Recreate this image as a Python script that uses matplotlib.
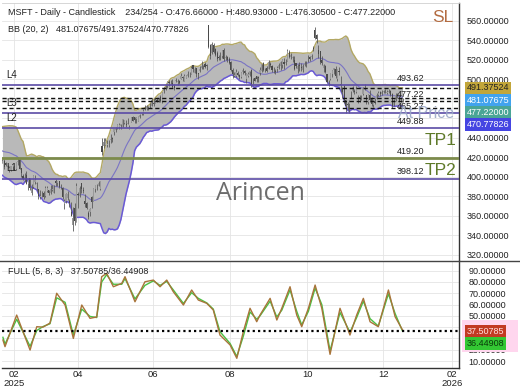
import matplotlib
matplotlib.use('Agg')
import matplotlib.pyplot as plt
import numpy as np
import pandas as pd
from matplotlib.patches import Rectangle
from matplotlib.lines import Line2D
from matplotlib.ticker import FuncFormatter

plt.rcParams['font.family'] = ['Liberation Sans', 'DejaVu Sans']

# ---------------- data ----------------
symbol = "MSFT"
bar_pos, bar_total = 234, 254
last_ohlc = (476.66000, 480.93000, 476.30500, 477.22000)

# closes before the first visible bar (needed for the 20-bar bands)
warmup_close = [424.56, 418.95, 417.19, 415.67, 426.31, 424.58, 429.03, 428.50, 446.20, 446.71,
                444.06, 434.56, 447.20, 442.33, 414.99, 415.06, 410.92, 412.37, 413.29]

opens = [
    414.0, 416.5, 413.7, 409.6, 407.2, 407.0, 407.8, 408.0, 407.9, 415.3, 417.3, 408.5, 401.2, 398.0, 401.3, 392.7,
    398.8, 383.4, 389.5, 394.3, 392.3, 387.4, 379.0, 382.9, 383.2, 379.8, 385.7, 386.2, 383.3, 386.6, 383.6, 395.9, 393.5, 395.3, 390.0, 388.1, 372.5,
    374.7, 377.9, 374.8, 364.1, 350.0, 368.2, 353.5, 382.1, 380.6, 393.2, 386.6, 375.0, 373.5, 362.8, 363.4, 379.0, 375.5, 387.3, 391.8, 390.9, 387.7,
    431.1, 431.7, 432.9, 432.2, 433.8, 437.9, 440.0, 445.9, 447.8, 450.0, 450.8, 452.1, 450.8, 455.6, 454.6, 454.3, 449.0, 456.4, 461.2, 461.6, 459.7,
    457.1, 461.5, 464.0, 464.3, 469.8, 469.7, 470.0, 473.0, 473.0, 476.0, 475.3, 478.2, 478.1, 482.0, 478.0, 488.0, 490.5, 492.9, 497.6, 497.0,
    496.5, 493.0, 497.8, 497.2, 497.7, 500.5, 502.0, 498.5, 501.5, 503.0, 505.0, 505.2, 514.5, 506.7, 511.4, 506.7, 508.8, 512.0, 513.0, 515.5, 515.0, 555.2,
    535.0, 526.5, 535.0, 530.9, 526.8, 522.6, 522.3, 523.8, 530.1, 522.0, 522.5, 521.0, 518.0, 509.0, 503.3, 503.0, 506.6, 504.4, 502.0, 507.1, 508.7,
    500.5, 503.8, 504.3, 509.1, 498.1, 501.4, 502.9, 502.3, 506.7, 508.8, 516.9, 510.6, 511.5, 510.6, 515.6, 513.8, 510.4, 508.3, 510.1, 511.5, 513.2,
    514.8, 517.6, 517.1, 518.6, 528.3, 523.3, 522.3, 519.6, 516.4, 510.2, 514.9, 512.6, 509.0, 514.6, 517.5, 521.2, 522.5, 522.8, 531.8, 550.0, 544.9, 530.5, 528.9,
    519.8, 511.8, 513.3, 505.7, 496.9, 500.0, 505.0, 509.3, 510.3, 500.0, 508.8, 495.1, 490.8, 493.0, 478.5, 475.0, 474.1, 486.3, 487.6,
    488.4, 486.7, 476.3, 482.0, 482.5, 484.9, 492.0, 484.0, 476.8, 484.0, 480.0, 473.8, 476.7, 480.0, 484.0, 486.5, 484.5, 486.6, 488.0, 486.0, 486.9, 487.5,
    484.5, 474.0, 479.0, 483.5, 482.0, 478.5, 476.66]

highs = [
    418.2, 418.6, 415.5, 412.5, 410.8, 411.0, 411.0, 410.6, 415.5, 419.3, 418.1, 409.3, 402.3, 403.6, 405.7, 397.6,
    398.8, 392.5, 402.2, 402.2, 394.8, 387.9, 386.0, 385.2, 385.3, 390.8, 390.0, 386.5, 391.8, 391.8, 392.0, 397.2, 395.3, 395.3, 392.2, 389.1, 377.1,
    382.9, 385.1, 377.5, 374.6, 368.9, 373.2, 393.2, 383.9, 390.2, 393.2, 389.6, 382.5, 374.3, 364.5, 367.8, 380.0, 388.0, 391.9, 392.8, 395.4, 395.9,
    439.5, 439.4, 439.4, 437.7, 438.1, 443.7, 440.7, 449.4, 450.7, 453.9, 455.0, 454.4, 459.6, 458.3, 457.9, 460.5, 453.2, 460.9, 462.5, 461.7, 461.7,
    462.1, 464.1, 465.7, 469.6, 473.3, 473.4, 473.0, 476.1, 480.4, 480.4, 480.7, 481.0, 481.0, 483.5, 486.8, 491.9, 494.6, 498.0, 499.3, 499.5,
    500.5, 495.3, 500.8, 500.2, 498.9, 506.8, 503.3, 505.0, 503.9, 508.3, 507.0, 513.4, 514.6, 512.1, 511.4, 506.8, 513.7, 518.3, 514.6, 517.6, 515.7, 555.5,
    536.0, 538.2, 537.2, 531.7, 528.9, 524.7, 527.6, 530.0, 531.8, 524.9, 524.0, 522.9, 518.2, 511.1, 507.6, 510.9, 508.2, 505.8, 507.3, 511.1, 509.6,
    506.0, 507.8, 508.2, 511.0, 501.2, 502.3, 503.2, 503.2, 512.6, 515.5, 517.2, 511.3, 513.1, 519.3, 517.7, 514.6, 512.5, 510.0, 513.9, 516.9, 518.2,
    520.5, 521.6, 520.5, 531.0, 529.8, 526.9, 524.3, 523.6, 516.4, 515.3, 517.2, 516.9, 515.5, 518.7, 518.7, 525.2, 523.9, 525.4, 534.6, 553.7, 546.3, 535.0, 529.3,
    524.0, 515.6, 514.8, 505.7, 499.4, 506.9, 509.0, 511.7, 513.5, 511.0, 512.1, 502.9, 491.7, 493.6, 478.9, 476.9, 479.0, 488.3, 492.6,
    489.9, 493.5, 484.2, 483.7, 483.4, 492.3, 495.0, 484.3, 484.9, 488.9, 481.5, 478.5, 481.2, 486.0, 487.5, 488.0, 488.5, 489.0, 489.5, 489.0, 489.5, 488.5,
    485.5, 480.0, 485.5, 486.0, 483.5, 481.0, 480.93]

lows = [
    414.0, 408.1, 410.7, 409.3, 404.4, 406.0, 407.0, 406.5, 407.3, 412.5, 407.9, 399.5, 396.7, 394.3, 392.2, 386.6,
    386.2, 381.0, 388.0, 392.8, 385.5, 377.2, 376.9, 378.9, 377.6, 379.0, 384.3, 381.7, 382.7, 385.0, 383.3, 390.5, 390.4, 388.0, 387.4, 376.9, 367.2,
    373.0, 376.6, 369.4, 359.5, 344.8, 350.0, 353.1, 367.8, 378.9, 382.9, 383.4, 368.7, 366.9, 356.7, 359.9, 368.4, 375.0, 384.2, 386.0, 390.4, 386.3,
    422.8, 429.0, 432.1, 430.2, 430.5, 435.1, 435.9, 442.5, 445.5, 449.0, 448.7, 448.7, 450.6, 454.3, 451.0, 453.9, 448.9, 456.1, 456.9, 455.3, 455.5,
    456.9, 460.0, 463.0, 463.5, 468.8, 468.6, 468.3, 471.0, 473.0, 473.0, 475.2, 476.5, 476.6, 476.8, 475.5, 486.4, 489.3, 491.4, 493.5, 495.4,
    490.6, 488.8, 497.0, 494.3, 495.0, 500.3, 497.7, 497.8, 501.0, 502.8, 502.2, 505.0, 507.1, 506.0, 502.6, 500.7, 507.3, 510.4, 510.8, 511.6, 509.4, 531.9,
    520.9, 525.9, 527.2, 524.0, 518.3, 519.4, 519.5, 521.7, 518.9, 519.5, 517.6, 515.5, 508.2, 501.6, 502.1, 502.2, 503.8, 499.9, 501.0, 505.0, 504.5,
    496.4, 502.3, 503.2, 491.8, 495.0, 497.7, 496.7, 497.1, 503.9, 507.0, 508.6, 507.3, 507.7, 510.3, 512.5, 507.3, 506.9, 505.0, 507.2, 510.5, 509.7,
    511.7, 510.7, 515.0, 518.2, 521.4, 521.1, 517.4, 509.6, 511.7, 506.0, 508.7, 508.1, 507.3, 513.4, 513.0, 517.7, 518.7, 520.8, 529.0, 540.8, 536.7, 522.1, 515.4,
    514.6, 507.1, 506.6, 495.8, 493.0, 498.9, 502.4, 505.5, 501.0, 497.7, 504.0, 486.6, 480.7, 475.5, 464.9, 468.0, 464.9, 481.2, 486.7,
    484.7, 486.3, 475.2, 477.0, 478.9, 484.0, 489.0, 475.1, 474.1, 476.8, 472.8, 471.5, 475.0, 479.5, 482.5, 483.0, 483.5, 485.5, 485.8, 484.8, 485.8, 483.0,
    470.5, 472.5, 478.0, 481.0, 476.5, 476.8, 476.305]

closes = [
    415.82, 409.75, 412.22, 411.44, 409.04, 410.54, 408.43, 409.64, 414.77, 416.13, 408.21, 404.00, 397.90, 399.73, 392.53, 396.99,
    388.49, 388.61, 401.02, 396.89, 393.31, 380.16, 380.45, 383.27, 378.77, 388.56, 388.70, 383.52, 387.82, 386.84, 391.26, 393.08, 395.16, 389.97, 390.58, 378.80, 375.39,
    382.19, 382.14, 373.11, 359.84, 357.86, 354.56, 390.49, 381.35, 388.45, 387.81, 385.73, 371.61, 367.78, 359.12, 366.82, 374.39, 387.30, 391.85, 391.16, 394.04, 395.26,
    425.40, 435.28, 436.17, 433.31, 433.35, 438.17, 438.73, 449.26, 449.14, 452.94, 453.13, 454.27, 458.87, 458.17, 452.57, 454.86, 450.18, 460.69, 457.36, 458.68, 460.36,
    461.97, 462.97, 463.87, 467.68, 470.38, 472.75, 470.92, 472.62, 478.87, 474.96, 479.14, 478.04, 480.24, 477.40, 486.00, 490.11, 492.27, 497.45, 495.94, 497.41,
    492.05, 491.09, 498.84, 497.72, 496.62, 503.51, 501.48, 503.32, 503.02, 505.82, 505.62, 511.70, 510.05, 510.06, 505.27, 505.87, 510.88, 513.71, 512.50, 512.57, 513.24, 533.50,
    524.11, 535.64, 527.75, 524.94, 520.84, 522.04, 521.77, 529.24, 520.58, 522.48, 520.17, 517.10, 509.77, 505.72, 504.24, 507.23, 504.26, 502.04, 506.74, 509.64, 506.69,
    505.12, 505.35, 507.97, 495.00, 498.20, 498.41, 500.37, 501.01, 509.90, 515.36, 509.04, 510.02, 508.45, 517.93, 514.45, 509.23, 510.15, 507.03, 511.46, 514.60, 517.95,
    519.71, 515.74, 517.35, 528.57, 523.00, 524.85, 522.40, 510.96, 514.05, 513.57, 513.43, 511.61, 513.58, 516.79, 517.66, 520.54, 520.56, 523.61, 531.52, 542.07, 541.55, 525.76, 517.81,
    517.03, 514.33, 507.16, 497.10, 496.82, 506.00, 508.68, 511.14, 503.29, 510.18, 507.49, 493.79, 487.12, 478.43, 472.12, 474.00, 476.99, 485.50, 492.01,
    486.74, 490.00, 477.73, 480.84, 483.16, 491.02, 492.02, 478.56, 483.47, 478.53, 474.82, 476.39, 476.12, 483.98, 485.92, 484.92, 486.85, 488.02, 487.71, 487.10, 487.48, 483.62,
    472.94, 478.51, 483.50, 483.00, 478.10, 479.30, 477.22]

bb_period, bb_mult = 20, 2
bb_now = (481.07675, 491.37524, 470.77826)   # middle / upper / lower
price_now = 477.22000

level_names = ['L4', 'L3', 'L2', 'L1']
level_values = [493.62, 465.27, 449.88, 398.12]
tp1_value, tp2_value = 419.20, 398.12

osc_params = (5, 8, 3)
osc_now = (37.50785, 36.44908)
osc_bars = [0.3, 1.5, 8.3, 16.1, 20.0, 23.6, 27.7, 31.6, 36.5, 41.3, 46.2, 51.0, 54.9, 57.8, 60.7,
            64.6, 69.5, 71.4, 77.2, 83.0, 87.9, 91.8, 95.7, 99.5, 105.4, 110.2, 114.1, 119.0, 122.8,
            126.7, 132.6, 136.5, 140.3, 144.2, 148.1, 150.0, 155.9, 159.8, 162.7, 167.5, 171.4, 174.3,
            178.2, 182.1, 186.0, 190.8, 196.6, 202.4, 206.3, 210.2, 214.1, 218.9, 224.8, 228.7, 233.0]
osc_k = [28.6, 22.7, 50.7, 19.7, 40.4, 40.0, 43.6, 70.0, 59.6, 30.0, 59.6, 47.8, 49.0, 84.7, 87.7,
         75.8, 78.8, 84.7, 62.5, 80.2, 81.7, 75.8, 81.7, 71.4, 59.6, 72.9, 64.0, 61.1, 55.2,
         33.0, 24.2, 12.4, 36.0, 56.7, 44.8, 50.7, 65.5, 46.3, 56.7, 75.8, 50.7, 40.4,
         56.7, 77.3, 56.7, 15.9, 56.7, 33.0, 50.7, 65.5, 44.8, 40.4, 72.9, 49.2, 37.50785]
osc_d = [31.0, 25.0, 47.0, 23.0, 37.0, 40.5, 43.0, 66.0, 62.0, 33.0, 56.0, 49.5, 48.5, 80.0, 86.5,
         78.0, 78.0, 83.0, 65.0, 77.0, 81.0, 77.0, 80.5, 73.0, 61.0, 70.5, 65.5, 61.5, 56.0,
         36.0, 25.5, 14.0, 32.0, 53.5, 47.0, 50.0, 63.0, 49.0, 55.0, 73.0, 54.0, 42.0,
         54.0, 74.5, 60.0, 19.0, 53.0, 35.5, 48.5, 63.0, 47.5, 41.0, 69.5, 52.0, 36.44908]

month_tick_pos = [6.8, 44.0, 87.7, 132.6, 177.4, 221.7, 261.8]
month_tick_labels = ['02\n2025', '04', '06', '08', '10', '12', '02\n2026']

# ---------------- figure ----------------
W, H = 520, 390
fig = plt.figure(figsize=(W / 100, H / 100), dpi=100)
fig.patch.set_facecolor('white')

def fx(px):
    return px / W

def fy(py):
    return 1 - py / H

ax = fig.add_axes([fx(2), fy(260), (459 - 2) / W, (260 - 3) / H])
ax2 = fig.add_axes([fx(2), fy(368), (459 - 2) / W, (368 - 261) / H])

n = len(closes)
x = np.arange(n)
o = np.array(opens); h = np.array(highs); l = np.array(lows); c = np.array(closes)

# Bollinger bands from the closes
allc = pd.Series(warmup_close + closes)
mid = allc.rolling(bb_period).mean().to_numpy()[len(warmup_close):]
sd = allc.rolling(bb_period).std(ddof=0).to_numpy()[len(warmup_close):]
upper = mid + bb_mult * sd
lower = mid - bb_mult * sd

ax.fill_between(x, lower, upper, color='#b9b9b9', lw=0, zorder=1)
ax.plot(x, upper, color='#b3a864', lw=1.0, zorder=2)
ax.plot(x, lower, color='#6a5ad6', lw=1.1, zorder=2)
ax.plot(x, mid, color='#7a74c4', lw=0.8, zorder=2)

# candles
ax.vlines(x, l, h, color='#5a5a5a', lw=0.6, zorder=3)
up = c >= o
body_h = np.maximum(np.abs(c - o), 0.4)
ax.bar(x, body_h, bottom=np.minimum(o, c), width=0.65,
       color=np.where(up, '#9a9a9a', '#4a4a4a'), edgecolor='none', zorder=4)

# level lines
purple = '#5b4ba6'
for v in level_values:
    ax.axhline(v, color=purple, lw=1.2, zorder=5)
ax.axhline(tp1_value, color='#7d8b4c', lw=2.0, zorder=5)
for v in (bb_now[1], bb_now[0], price_now, bb_now[2]):
    ax.axhline(v, color='#111111', lw=1.0, ls=(0, (3, 2)), zorder=5)

ytr = ax.get_yaxis_transform()
for name, v in zip(level_names, level_values):
    ax.annotate(name, xy=(0.009, v), xycoords=ytr, xytext=(0, 4), textcoords='offset points',
                ha='left', va='bottom', fontsize=7, color='#222222', zorder=6)
for v in [level_values[0], price_now, level_values[1], level_values[2], tp1_value, tp2_value]:
    ax.annotate(f'{v:.2f}', xy=(0.9234, v), xycoords=ytr, xytext=(0, 1.5), textcoords='offset points',
                ha='right', va='bottom', fontsize=6.5, color='#222222', zorder=6)
ax.annotate('TP1', xy=(0.925, tp1_value), xycoords=ytr, xytext=(0, 7.5), textcoords='offset points',
            ha='left', va='bottom', fontsize=12.5, color='#5f7a2a', zorder=6)
ax.annotate('TP2', xy=(0.925, tp2_value), xycoords=ytr, xytext=(0, 0.5), textcoords='offset points',
            ha='left', va='bottom', fontsize=12.5, color='#5f7a2a', zorder=6)

ax.set_xlim(-0.25, 265.9)
ax.set_ylim(314.6, 578.2)
ax.set_yticks(np.arange(320, 561, 20))
ax.set_xticks(month_tick_pos)
ax.grid(True, color='#e4e4e4', lw=0.6, zorder=0)
ax.set_axisbelow(True)
ax.yaxis.tick_right()
ax.yaxis.set_major_formatter(FuncFormatter(lambda v, p: f'{v:.5f}'))
ax.tick_params(axis='y', length=0, pad=5.8, labelsize=6.5, labelcolor='#222222')
ax.tick_params(axis='x', length=0, labelbottom=False)
for s in ('left', 'bottom'):
    ax.spines[s].set_visible(False)
ax.spines['top'].set_color('#d0d0d0')
ax.spines['top'].set_linewidth(0.6)
ax.spines['right'].set_color('#333333')
ax.spines['right'].set_linewidth(1.0)

# ---------------- oscillator ----------------
ax2.plot(osc_bars, osc_d, color='#49c243', lw=1.0, zorder=3)
ax2.plot(osc_bars, osc_k, color='#a8743a', lw=1.0, zorder=4)
ax2.axhline(osc_now[1], color='#000000', lw=1.6, ls=(0, (1, 1.4)), zorder=5)
ax2.set_xlim(-0.25, 265.9)
ax2.set_ylim(3.8, 98.6)
ax2.set_yticks(np.arange(10, 91, 10))
ax2.set_xticks(month_tick_pos)
ax2.set_xticklabels(month_tick_labels, linespacing=0.95)
ax2.grid(True, color='#e4e4e4', lw=0.6, zorder=0)
ax2.set_axisbelow(True)
ax2.yaxis.tick_right()
ax2.yaxis.set_major_formatter(FuncFormatter(lambda v, p: f'{v:.5f}'))
ax2.tick_params(axis='y', length=0, pad=7, labelsize=6.5, labelcolor='#222222')
ax2.tick_params(axis='x', length=0, pad=1.5, labelsize=6.8, labelcolor='#222222')
ax2.spines['left'].set_visible(False)
ax2.spines['top'].set_visible(False)
for s in ('bottom', 'right'):
    ax2.spines[s].set_color('#333333')
    ax2.spines[s].set_linewidth(1.0)

fig.add_artist(Line2D([0, 1], [fy(260.5), fy(260.5)], transform=fig.transFigure,
                      color='#444444', lw=1.0))

# ---------------- texts ----------------
def ftext(px, py, s, **kw):
    return fig.text(fx(px), fy(py), s, **kw)

O_, H_, L_, C_ = last_ohlc
ftext(8, 12.5, f'{symbol} - Daily - Candlestick    {bar_pos}/{bar_total} - O:{O_:.5f} - H:{H_:.5f} - '
      f'L:{L_:.5f} - C:{C_:.5f}', fontsize=6.5, va='center', ha='left', color='#222222')
ftext(8, 29.5, f'BB ({bb_period}, {bb_mult})   {bb_now[0]:.5f}/{bb_now[1]:.5f}/{bb_now[2]:.5f}',
      fontsize=6.5, va='center', ha='left', color='#222222')
ftext(8, 272, f'FULL ({osc_params[0]}, {osc_params[1]}, {osc_params[2]})   {osc_now[0]:.5f}/{osc_now[1]:.5f}',
      fontsize=6.5, va='center', ha='left', color='#222222')

ftext(443, 17, 'SL', fontsize=12.5, ha='center', va='center', color='#b36c42')
ftext(426, 113.5, 'At Price', fontsize=11.5, ha='center', va='center', color='#9aa7c6', alpha=0.9)
ftext(260, 193, 'Arincen', fontsize=18, ha='center', va='center', color='#6c6c6c',
      family=['Open Sans', 'DejaVu Sans'])

# value boxes on the right
boxes = [(88, bb_now[1], '#c2a63a', '#222222'),
         (100.2, bb_now[0], '#41a3ee', 'white'),
         (112.2, price_now, '#4aa596', 'white'),
         (124.2, bb_now[2], '#4545e2', 'white')]
for py, v, bg, fgc in boxes:
    ftext(467, py, f'{v:.5f}', fontsize=6.5, ha='left', va='center', color=fgc,
          bbox=dict(boxstyle='square,pad=0.2', fc=bg, ec='none'))

fig.add_artist(Rectangle((fx(462), fy(352)), (518 - 462) / W, (352 - 320) / H,
                         transform=fig.transFigure, fc='#ffd6ee', ec='none', zorder=1))
ftext(467, 331, f'{osc_now[0]:.5f}', fontsize=6.5, ha='left', va='center', color='#ffe0e0',
      bbox=dict(boxstyle='square,pad=0.2', fc='#c23a22', ec='none'))
ftext(467, 343.5, f'{osc_now[1]:.5f}', fontsize=6.5, ha='left', va='center', color='#0a3a0a',
      bbox=dict(boxstyle='square,pad=0.2', fc='#33c733', ec='none'))

fig.savefig('out.png', dpi=100)
